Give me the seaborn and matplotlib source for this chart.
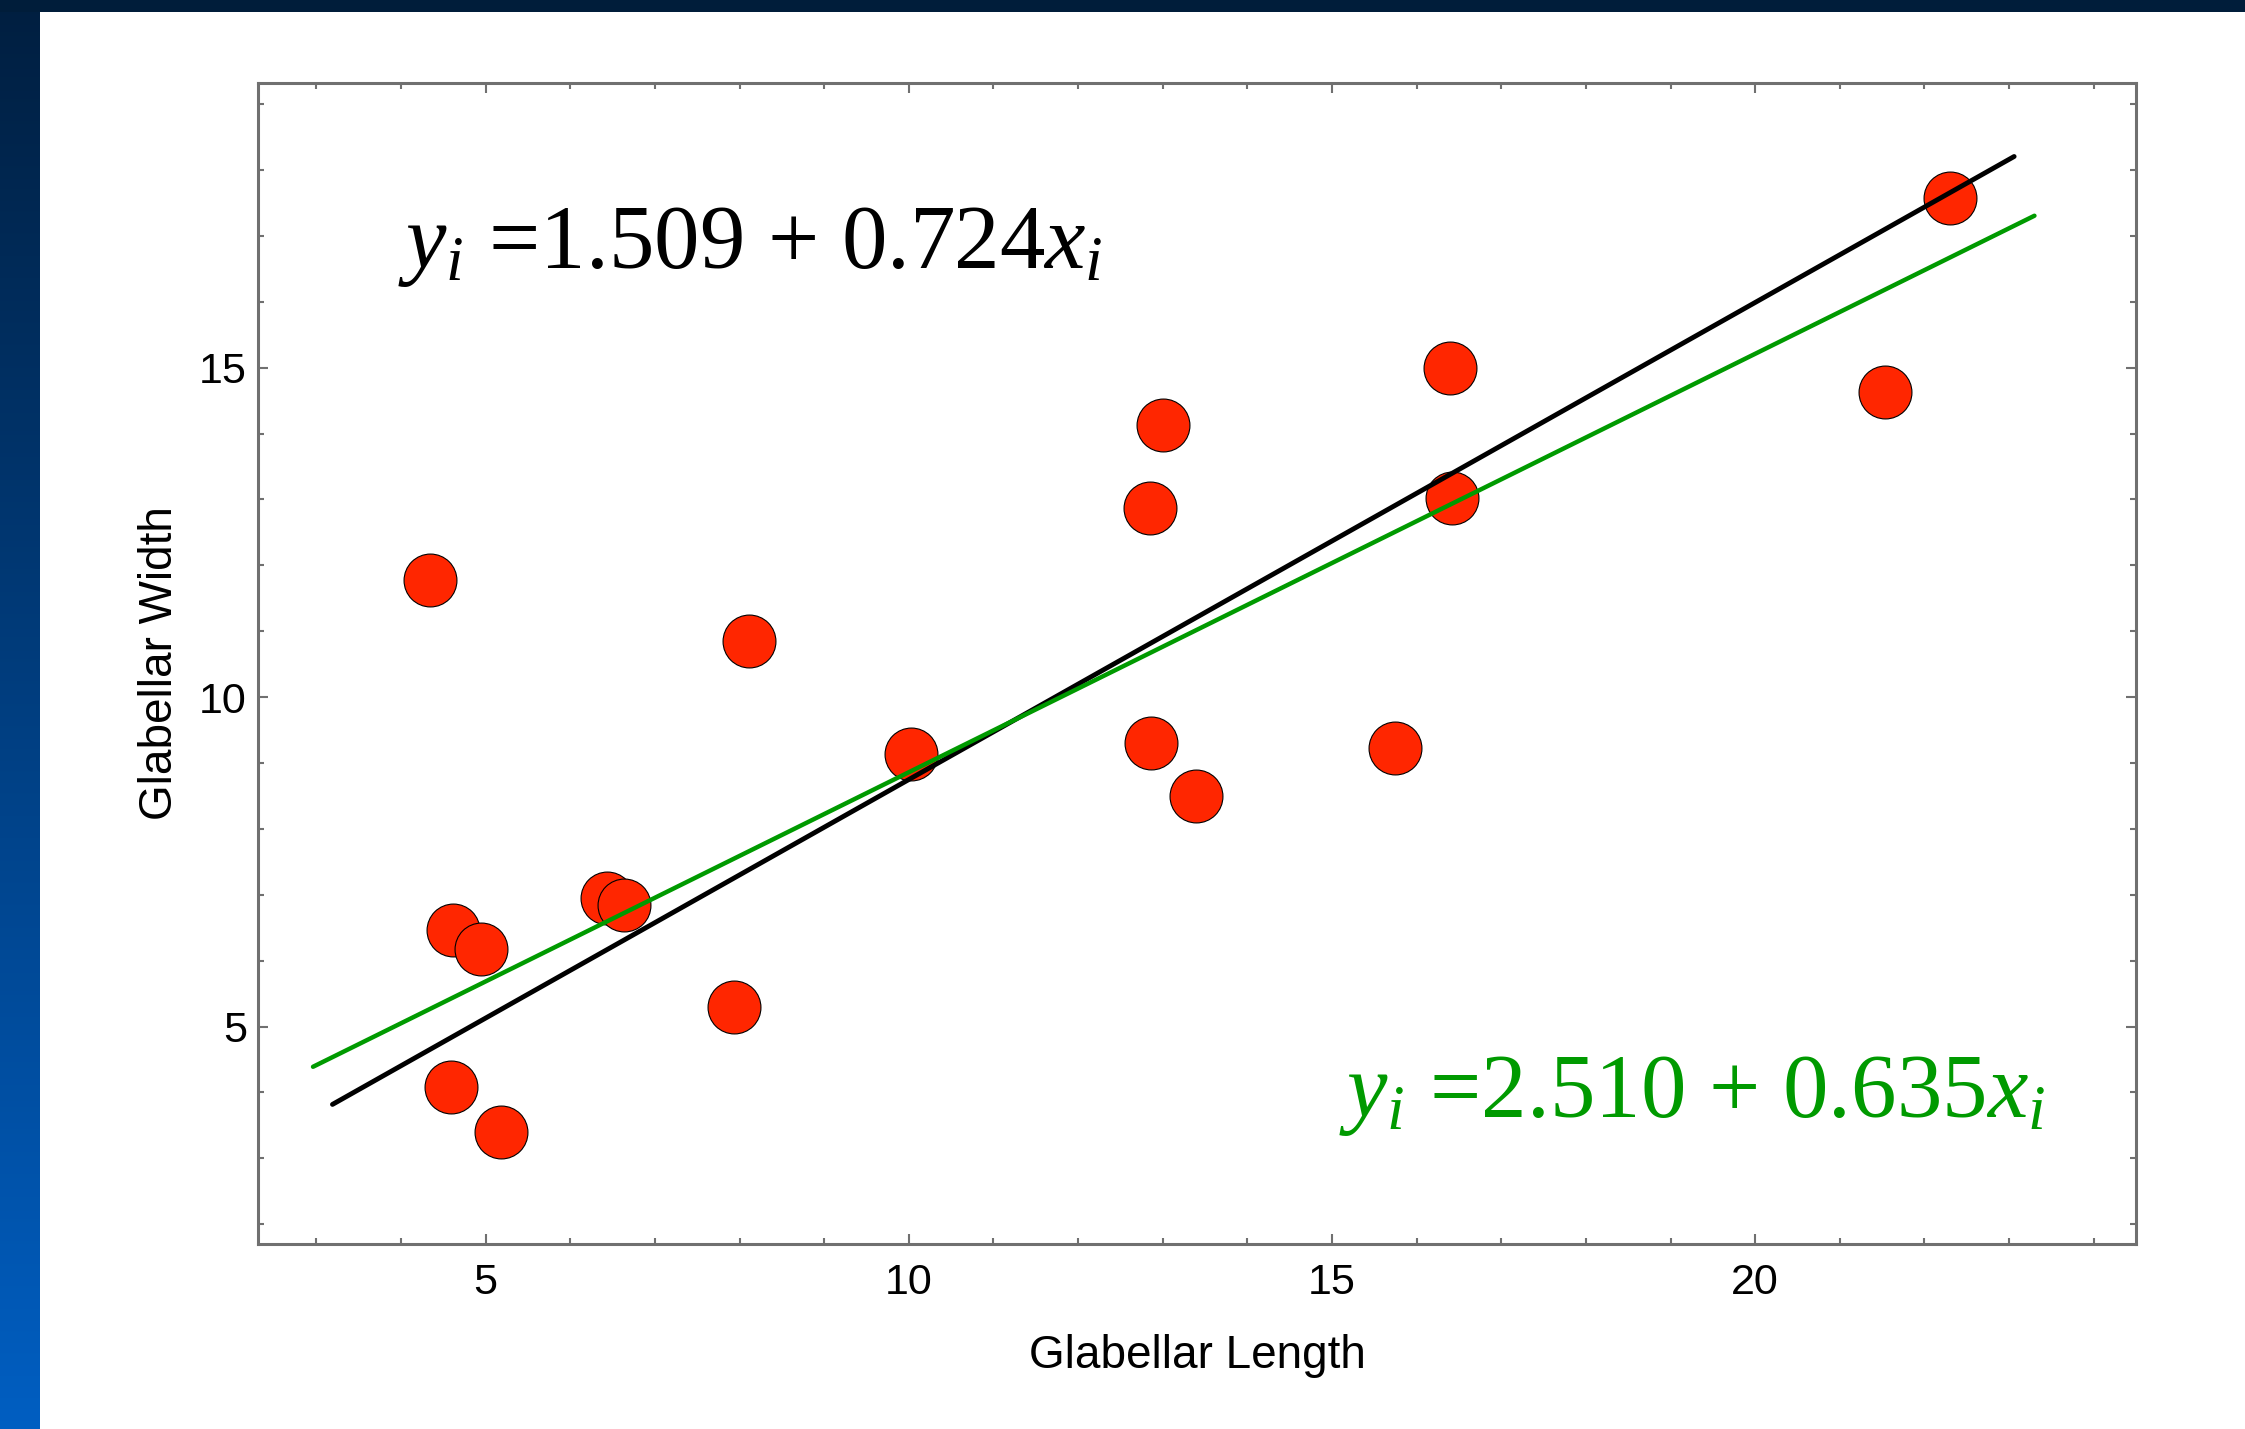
import numpy as np
import pandas as pd
import matplotlib
matplotlib.use("Agg")
import matplotlib.pyplot as plt
from matplotlib.ticker import MultipleLocator
import seaborn as sns

# Glabellar measurements
glabellar_length = [4.34, 4.61, 4.95, 4.59, 5.18, 6.43, 6.63, 7.93, 8.11, 10.02,
                    12.85, 13.00, 12.86, 13.39, 15.74, 16.40, 16.42, 21.54, 22.30]
glabellar_width = [11.78, 6.47, 6.17, 4.08, 3.40, 6.95, 6.85, 5.29, 10.85, 9.13,
                   12.87, 14.13, 9.30, 8.50, 9.22, 15.00, 13.02, 14.63, 17.57]

# Fitted lines: intercept, slope and x-extent
black_fit = (1.509, 0.724)
black_x = [3.19, 23.06]
green_fit = (2.510, 0.635)
green_x = [2.96, 23.30]

x_ticks = [5, 10, 15, 20]
y_ticks = [5, 10, 15]

W, H, DPI = 2245, 1429, 100

sns.set_theme(style="ticks")
plt.rcParams["font.family"] = ["Liberation Sans", "DejaVu Sans"]
plt.rcParams["mathtext.fontset"] = "custom"
plt.rcParams["mathtext.rm"] = "Liberation Serif"
plt.rcParams["mathtext.it"] = "Liberation Serif:italic"

fig = plt.figure(figsize=(W / DPI, H / DPI), dpi=DPI, facecolor="white")

# Slide frame: dark band on top, blue gradient band at the left
left_w, top_h = 40, 12
t = np.linspace(0, 1, H)[:, None]
top_col = np.array([0.0, 0.12, 0.25])
bot_col = np.array([0.0, 0.37, 0.76])
grad = (1 - t)[:, :, None] * top_col + t[:, :, None] * bot_col
grad = np.repeat(grad, left_w, axis=1)
fig.figimage(grad, xo=0, yo=0, origin="upper", zorder=0)
top_band = np.tile(np.array([0.0, 0.115, 0.23]), (top_h, W, 1))
fig.figimage(top_band, xo=0, yo=H - top_h, origin="upper", zorder=0)

ax = fig.add_axes([258 / W, 1 - 1244 / H, (2136 - 258) / W, (1244 - 83) / H])
ax.set_facecolor("white")

df = pd.DataFrame({"Glabellar Length": glabellar_length,
                   "Glabellar Width": glabellar_width})
sns.scatterplot(data=df, x="Glabellar Length", y="Glabellar Width", ax=ax,
                s=1450, color="#ff2600", edgecolor="black", linewidth=0.8,
                zorder=3, legend=False)

lines = pd.DataFrame({
    "x": black_x + green_x,
    "y": [black_fit[0] + black_fit[1] * v for v in black_x]
         + [green_fit[0] + green_fit[1] * v for v in green_x],
    "fit": ["black"] * 2 + ["green"] * 2,
})
sns.lineplot(data=lines[lines.fit == "black"], x="x", y="y", ax=ax,
             color="black", linewidth=3.5, zorder=4, legend=False)
sns.lineplot(data=lines[lines.fit == "green"], x="x", y="y", ax=ax,
             color="#009a00", linewidth=3.2, zorder=4, legend=False)

ax.set_xlim(2.31, 24.5)
ax.set_ylim(1.70, 19.32)
ax.set_xticks(x_ticks)
ax.set_yticks(y_ticks)
ax.xaxis.set_minor_locator(MultipleLocator(1))
ax.yaxis.set_minor_locator(MultipleLocator(1))

frame_col = "#707070"
for sp in ax.spines.values():
    sp.set_color(frame_col)
    sp.set_linewidth(2.2)
ax.tick_params(which="both", direction="in", top=True, right=True,
               color=frame_col, width=1.5)
ax.tick_params(which="major", length=7)
ax.tick_params(which="minor", length=4)
ax.tick_params(axis="x", which="major", labelsize=31, pad=14, labelcolor="black")
ax.tick_params(axis="y", which="major", labelsize=31, pad=8, labelcolor="black")

ax.set_xlabel("Glabellar Length", fontsize=33, labelpad=22, color="black")
ax.set_ylabel("Glabellar Width", fontsize=33, labelpad=12, color="black")

eq_font = dict(family="Liberation Serif", fontsize=65.5, va="baseline", ha="left")
fig.text(398 / W, 1 - 268 / H,
         r"$y_i$ =%.3f + %.3f$x_i$" % black_fit, color="black", **eq_font)
fig.text(1339 / W, 1 - 1117 / H,
         r"$y_i$ =%.3f + %.3f$x_i$" % green_fit, color="#009a00", **eq_font)

fig.savefig("out.png", dpi=DPI, facecolor="white")
